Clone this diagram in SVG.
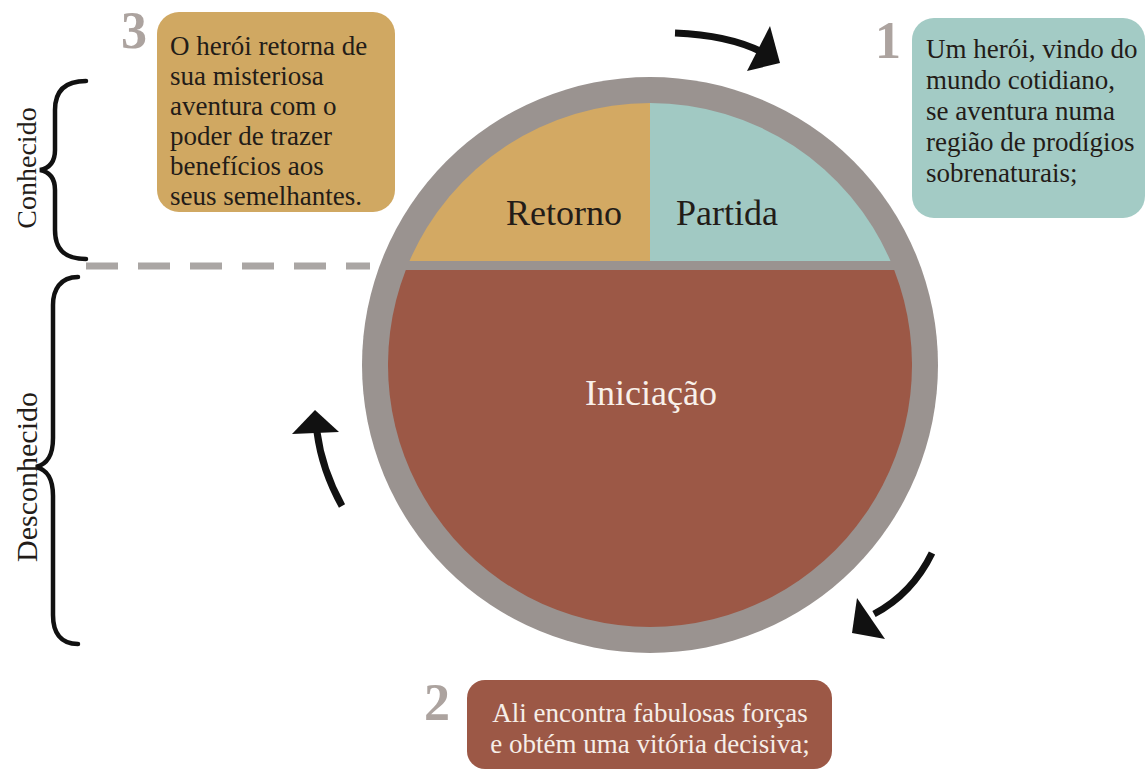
<svg xmlns="http://www.w3.org/2000/svg" width="1146" height="769" viewBox="0 0 1146 769">
<style>
.t{font-family:"Liberation Serif","Times New Roman",serif;font-size:27px;fill:#231c18}
.tw{font-family:"Liberation Serif","Times New Roman",serif;font-size:27px;fill:#f6eee8}
.num{font-family:"Liberation Serif","Times New Roman",serif;font-size:52px;font-weight:bold;fill:#aca39f}
.lab{font-family:"Liberation Serif","Times New Roman",serif;font-size:36px;fill:#231c18;text-anchor:middle}
.side{font-family:"Liberation Serif","Times New Roman",serif;font-size:28px;fill:#231c18;text-anchor:middle}
.brace{fill:none;stroke:#111;stroke-width:4.5;stroke-linecap:round}
.arr{fill:none;stroke:#111;stroke-width:7}
.head{fill:#111}
</style>
<rect width="1146" height="769" fill="#ffffff"/>

<g id="circle">
<circle cx="650" cy="365" r="288" fill="#9a9390"/>
<path d="M409.5,261 A262,262 0 0 1 650,103 L650,261 Z" fill="#d3a963"/>
<path d="M650,103 A262,262 0 0 1 890.5,261 L650,261 Z" fill="#a1c9c3"/>
<path d="M405.8,270 A262,262 0 1 0 894.2,270 Z" fill="#9c5846"/>
<text class="lab" x="564" y="225">Retorno</text>
<text class="lab" x="727" y="225">Partida</text>
<text class="lab" x="651" y="405" style="fill:#f8f0ea">Iniciação</text>
</g>

<g id="node3">
<rect x="157" y="12" width="238" height="200" rx="22" fill="#d0a862"/>
<text class="num" x="121" y="48">3</text>
<text class="t"><tspan x="170" y="55">O herói retorna de</tspan><tspan x="170" y="85">sua misteriosa</tspan><tspan x="170" y="115">aventura com o</tspan><tspan x="170" y="145">poder de trazer</tspan><tspan x="170" y="175">benefícios aos</tspan><tspan x="170" y="205">seus semelhantes.</tspan></text>
</g>

<g id="node1">
<rect x="912" y="18" width="233" height="200" rx="22" fill="#a3cbc5"/>
<text class="num" x="875" y="58">1</text>
<text class="t"><tspan x="926" y="58">Um herói, vindo do</tspan><tspan x="926" y="89">mundo cotidiano,</tspan><tspan x="926" y="120">se aventura numa</tspan><tspan x="926" y="151">região de prodígios</tspan><tspan x="926" y="182">sobrenaturais;</tspan></text>
</g>

<g id="node2">
<rect x="467" y="680" width="365" height="89" rx="18" fill="#9c5846"/>
<text class="num" x="424" y="720">2</text>
<text class="tw" text-anchor="middle"><tspan x="650" y="722">Ali encontra fabulosas forças</tspan><tspan x="650" y="753">e obtém uma vitória decisiva;</tspan></text>
</g>

<g id="sides">
<path class="brace" d="M86,81 C64,81 55,92 55,110 L55,150 C55,162 50,168 40,170 C50,172 55,178 55,190 L55,230 C55,249 64,259 86,259"/>
<text class="side" transform="translate(36,168) rotate(-90)">Conhecido</text>
<path class="brace" d="M78,277 C60,277 53,290 53,305 L53,438 C53,455 48,464 36,467 C48,470 53,479 53,496 L53,615 C53,632 60,644 78,644"/>
<text class="side" style="font-size:30px" transform="translate(37,477) rotate(-90)">Desconhecido</text>
<line x1="86" y1="266" x2="370" y2="266" stroke="#aaa6a4" stroke-width="7" stroke-dasharray="32,20"/>
</g>

<g id="connectors">
<path class="arr" d="M675,33 Q728,35 762,52"/>
<polygon class="head" points="770,26 780,63 747,71"/>
<path class="arr" d="M932,553 Q912,594 874,614"/>
<polygon class="head" points="857,598 852,633 885,639"/>
<path class="arr" d="M342,506 Q322,470 317,432"/>
<polygon class="head" points="315,410 292,434 339,432"/>
</g>
</svg>
